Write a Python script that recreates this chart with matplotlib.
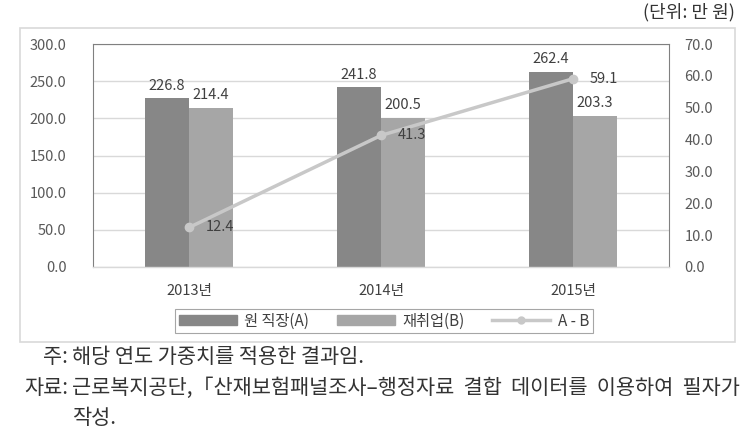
import matplotlib
matplotlib.use("Agg")
import matplotlib.pyplot as plt
from matplotlib.patches import Rectangle
from matplotlib.lines import Line2D

plt.rcParams['font.family'] = ['Noto Sans CJK KR', 'DejaVu Sans']

categories = ['2013년', '2014년', '2015년']
orig_job = [226.8, 241.8, 262.4]
reemploy = [214.4, 200.5, 203.3]
diff = [12.4, 41.3, 59.1]
series_names = ['원 직장(A)', '재취업(B)', 'A - B']
left_ticks = [0, 50, 100, 150, 200, 250, 300]
right_ticks = [0, 10, 20, 30, 40, 50, 60, 70]

W, H = 748, 443
fig = plt.figure(figsize=(W / 100, H / 100), dpi=100)

def fx(px):
    return px / W

def fy(py):
    return 1 - py / H

# outer frame
fig.patches.append(Rectangle((fx(20), fy(342)), fx(735) - fx(20), fy(28) - fy(342),
                             transform=fig.transFigure, fill=False,
                             edgecolor='#d9d9d9', linewidth=1.2))

ax = fig.add_axes([fx(93), fy(267), fx(669) - fx(93), fy(44) - fy(267)])
x = list(range(len(categories)))
bw = 0.23
dark = '#878787'
light = '#a6a6a6'
linec = '#c8c8c8'
labc = '#404040'
tickc = '#595959'

ax.bar([i - bw / 2 for i in x], orig_job, width=bw, color=dark, zorder=2)
ax.bar([i + bw / 2 for i in x], reemploy, width=bw, color=light, zorder=2)
ax.set_xlim(-0.5, 2.5)
ax.set_ylim(0, 300)
ax.set_yticks(left_ticks)
ax.set_yticklabels([f'{v:.1f}' for v in left_ticks])
ax.set_xticks(x)
ax.set_xticklabels(categories)
ax.grid(axis='y', color='#d9d9d9', linewidth=1, zorder=0)
ax.set_axisbelow(True)
ax.tick_params(axis='y', length=0, pad=19, labelsize=10.5, labelcolor=tickc)
ax.tick_params(axis='x', length=0, pad=12, labelsize=10.5, labelcolor='#404040')
for s in ['left', 'right', 'top']:
    ax.spines[s].set_color('#808080')
    ax.spines[s].set_linewidth(0.8)
ax.spines['bottom'].set_color('#d9d9d9')
ax.spines['bottom'].set_linewidth(1)

for i, v in enumerate(orig_job):
    ax.annotate(f'{v:.1f}', (i - bw / 2, v), xytext=(0, 4), textcoords='offset points',
                ha='center', va='bottom', fontsize=10.5, color=labc)
for i, v in enumerate(reemploy):
    ax.annotate(f'{v:.1f}', (i + bw / 2, v), xytext=(0, 4), textcoords='offset points',
                ha='center', va='bottom', fontsize=10.5, color=labc)

ax2 = ax.twinx()
ax2.plot(x, diff, color=linec, linewidth=2.5, marker='o', markersize=6, zorder=3)
ax2.set_ylim(0, 70)
ax2.set_yticks(right_ticks)
ax2.set_yticklabels([f'{v:.1f}' for v in right_ticks])
ax2.tick_params(axis='y', length=0, pad=11, labelsize=10.5, labelcolor=tickc)
for s in ax2.spines.values():
    s.set_visible(False)
for i, v in enumerate(diff):
    ax2.annotate(f'{v:.1f}', (i, v), xytext=(12, 0), textcoords='offset points',
                 ha='left', va='center', fontsize=10.5, color=labc)

handles = [Rectangle((0, 0), 1, 1, color=dark),
           Rectangle((0, 0), 1, 1, color=light),
           Line2D([0], [0], color=linec, linewidth=2.5, marker='o', markersize=5)]
leg = fig.legend(handles, series_names, loc='center', bbox_to_anchor=(fx(384), fy(321)),
                 ncol=3, frameon=True, fancybox=False, edgecolor='#909090',
                 fontsize=11, handlelength=3.8, handleheight=0.6, columnspacing=1.8,
                 borderpad=0.25, handletextpad=0.5, labelcolor='#404040')
leg.get_frame().set_linewidth(0.8)

fs = 15
tc = '#333333'
fig.text(fx(735), fy(12), '(단위: 만 원)', ha='right', va='center', fontsize=13, color=tc)
fig.text(fx(68), fy(357), '주:', ha='right', va='center', fontsize=fs, color=tc)
fig.text(fx(72), fy(357), '해당 연도 가중치를 적용한 결과임.', ha='left', va='center', fontsize=fs, color=tc)
fig.text(fx(68), fy(388), '자료:', ha='right', va='center', fontsize=fs, color=tc)
fig.text(fx(72), fy(388), '근로복지공단,「산재보험패널조사–행정자료  결합  데이터를  이용하여  필자가',
         ha='left', va='center', fontsize=fs, color=tc)
fig.text(fx(72), fy(418), '작성.', ha='left', va='center', fontsize=fs, color=tc)

fig.savefig('out.png', dpi=100)
